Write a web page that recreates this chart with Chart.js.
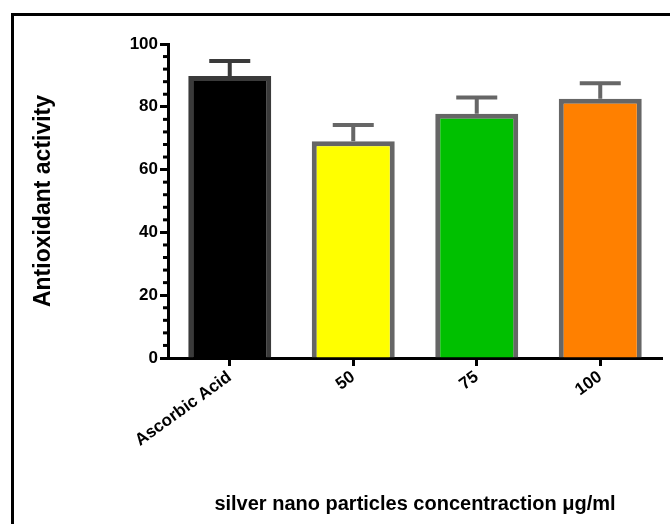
<!DOCTYPE html>
<html>
<head>
<meta charset="utf-8">
<script src="https://cdn.jsdelivr.net/npm/chart.js@4.4.0/dist/chart.umd.min.js"></script>
<style>
  html, body { margin: 0; padding: 0; background: #fff; }
</style>
</head>
<body>
<canvas id="antioxChart" width="670" height="524"></canvas>
<script>
"use strict";

// values
var categories = ['Ascorbic Acid', '50', '75', '100'];
var activity = [89.8, 69.0, 77.8, 82.6];
var errorTop = [94.6, 74.2, 83.0, 87.5];
var yTicks = [0, 20, 40, 60, 80, 100];
var barColors = ['#000000', '#FFFF00', '#00C000', '#FF8000'];
var edgeColors = ['#3A3A3A', '#666666', '#666666', '#666666'];

var FONT = "'Liberation Sans', Arial, sans-serif";

var framePlugin = {
  id: 'frame',
  beforeDraw: function (chart) {
    var ctx = chart.ctx;
    ctx.save();
    ctx.fillStyle = '#fff';
    ctx.fillRect(0, 0, chart.width, chart.height);
    ctx.strokeStyle = '#000';
    ctx.lineWidth = 3;
    ctx.strokeRect(12.5, 14.5, chart.width + 20, chart.height + 20);
    ctx.restore();
  }
};

// short minor ticks on the y axis, every 4 units
var minorTicks = {
  id: 'minorTicks',
  afterDraw: function (chart) {
    var y = chart.scales.y, ctx = chart.ctx;
    var x0 = chart.chartArea.left;
    ctx.save();
    ctx.strokeStyle = '#000';
    ctx.lineWidth = 3;
    for (var v = 0; v <= 100; v += 4) {
      if (v % 20 === 0) continue;
      var py = y.getPixelForValue(v);
      ctx.beginPath();
      ctx.moveTo(x0, py);
      ctx.lineTo(x0 - 5, py);
      ctx.stroke();
    }
    ctx.restore();
  }
};

// upper-only error bars, like the original
var errorBars = {
  id: 'errorBars',
  afterDatasetsDraw: function (chart) {
    var ctx = chart.ctx;
    var y = chart.scales.y;
    var meta = chart.getDatasetMeta(0);
    ctx.save();
    ctx.lineWidth = 4;
    meta.data.forEach(function (bar, i) {
      var top = y.getPixelForValue(errorTop[i]);
      ctx.strokeStyle = edgeColors[i];
      ctx.beginPath();
      ctx.moveTo(bar.x, bar.y);
      ctx.lineTo(bar.x, top);
      ctx.moveTo(bar.x - 20.5, top);
      ctx.lineTo(bar.x + 20.5, top);
      ctx.stroke();
    });
    ctx.restore();
  }
};

var antioxChart = new Chart(document.getElementById('antioxChart').getContext('2d'), {
  type: 'bar',
  data: {
    labels: categories,
    datasets: [{
      data: activity,
      backgroundColor: barColors,
      borderColor: edgeColors,
      borderWidth: { top: 5, left: 5, right: 5, bottom: 0 },
      borderSkipped: false,
      categoryPercentage: 1,
      barPercentage: 0.672
    }]
  },
  options: {
    responsive: false,
    animation: false,
    layout: { padding: { top: 44, right: 8, left: 0, bottom: 0 } },
    plugins: { legend: { display: false }, tooltip: { enabled: false } },
    scales: {
      x: {
        z: 1,
        offset: true,
        grid: { display: true, offset: false, drawOnChartArea: false, tickLength: 8, tickWidth: 3, tickColor: '#000' },
        border: { display: true, width: 3, color: '#000' },
        ticks: {
          color: '#000', minRotation: 36, maxRotation: 36, padding: 1,
          font: { family: FONT, size: 17, weight: 'bold' }
        },
        title: {
          display: true, text: 'silver nano particles concentraction μg/ml', color: '#000',
          font: { family: FONT, size: 20, weight: 'bold' }, padding: { top: 0, bottom: 8 }
        },
        afterFit: function (scale) { scale.height = 166; }
      },
      y: {
        min: 0, max: 100,
        afterBuildTicks: function (scale) {
          scale.ticks = yTicks.map(function (v) { return { value: v }; });
        },
        grid: { display: true, drawOnChartArea: false, tickLength: 8, tickWidth: 3, tickColor: '#000' },
        border: { display: true, width: 3, color: '#000' },
        ticks: {
          color: '#000', padding: 2,
          font: { family: FONT, size: 17, weight: 'bold' }
        },
        title: {
          display: true, text: 'Antioxidant activity', color: '#000',
          font: { family: FONT, size: 23, weight: 'bold' }, padding: { top: 30, bottom: 0 }
        },
        afterFit: function (scale) { scale.width = 168; }
      }
    }
  },
  plugins: [framePlugin, minorTicks, errorBars]
});
</script>
</body>
</html>
